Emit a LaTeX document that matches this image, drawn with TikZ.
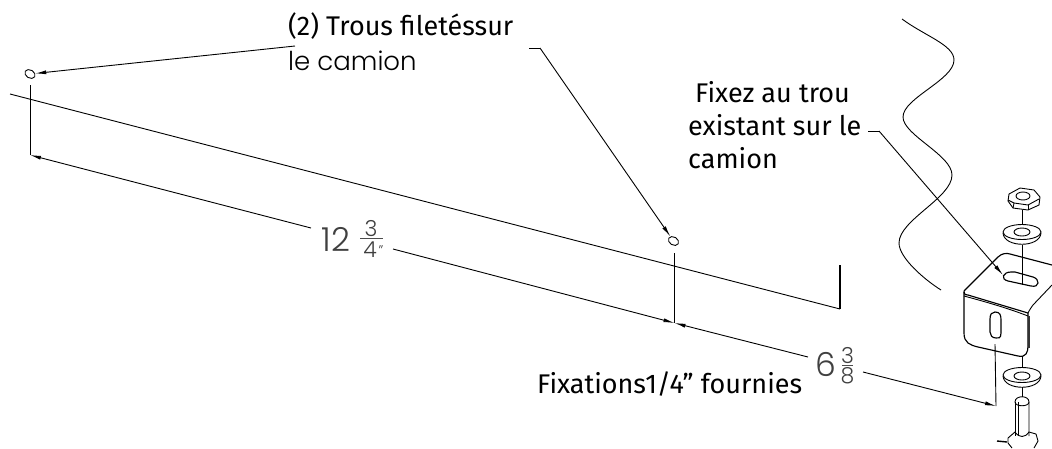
\documentclass[tikz,border=0pt]{standalone}
\usepackage{fontspec}
\setmainfont{Fira Sans}
\newfontfamily\thinfont{Poppins Light}
\usetikzlibrary{arrows.meta,shapes.geometric}
\tikzset{
 ln/.style={line width=0.9pt,black},
 thk/.style={line width=1.15pt,black},
 arr/.style={ln,-{Latex[length=11pt,width=4pt]}},
 lbl/.style={inner sep=0pt,anchor=base west,text=black},
 lbla/.style={lbl,font=\fontsize{27pt}{29pt}\selectfont},
 lbld/.style={lbl,font=\thinfont\fontsize{26pt}{26pt}\selectfont},
 dim/.style={inner sep=0pt,text=black!75,font=\thinfont\fontsize{33pt}{33pt}\selectfont},
 frac/.style={inner sep=0pt,text=black!75,font=\thinfont\fontsize{22pt}{22pt}\selectfont},
 hole/.style={draw,ln,ellipse,minimum width=11pt,minimum height=8pt,inner sep=0pt,rotate=-30}
}
\begin{document}
\begin{tikzpicture}[x=1pt,y=-1pt]
\useasboundingbox (0,0) rectangle (1052,448);
\fill[white] (0,0) rectangle (1052,448);
% holes
\node[hole] (h1) at (30,74) {};
\node[hole] (h2) at (673.5,241) {};
% coordinates
\coordinate (l1) at (295,46);
\coordinate (l2a) at (529,48);
\coordinate (l2b) at (540,48);
\coordinate (d1) at (30,155);
\coordinate (t1) at (30,85);
\coordinate (t2) at (674.5,253);
\coordinate (d2) at (674.5,323);
\coordinate (d3) at (996,406);
\draw[arr] (l1) -- (h1);
\draw[ln] (l2a) -- (l2b);
\draw[arr] (l2b) -- (h2);
\draw[ln] (10,94) -- (840,309);
\draw[thk] (840,309) -- (840,265);
\draw[ln] (t1) -- (d1);
\draw[ln] (t2) -- (d2);
\draw[arr] (311,228) -- (d1);
\draw[arr] (393,249) -- (d2);
\draw[arr] (808,357) -- (d2);
\draw[arr] (863,372) -- (d3);
\draw[ln] (d3) -- (995,344);
% dims
\node[dim,anchor=base] (n12) at (336,251) {12};
\node[frac,anchor=base] (f3) at (371,236) {3};
\draw[ln,black!70] (360,238.5) -- (383,238.5);
\node[frac,anchor=base] (f4) at (370,257) {4};
\node[inner sep=0pt,text=black!75,font=\thinfont\fontsize{14pt}{14pt}\selectfont,anchor=base] (q) at (381,255) {”};
\node[dim,anchor=base] (n6) at (826,376) {6};
\node[frac,anchor=base] (f5) at (847.5,363) {3};
\draw[ln,black!70] (842,365.5) -- (853,365.5);
\node[frac,anchor=base] (f6) at (847.5,383) {8};
% labels
\node[lbla] (a) at (288,35) {(2) Trous filetéssur};
\node[lbld] (b) at (288,70) {le camion};
\node[lbla] (c) at (695,102) {Fixez au trou};
\node[lbla] (d) at (688,135) {existant sur le};
\node[lbla] (e) at (688,168) {camion};
\node[lbla] (f) at (537,393) {Fixations1/4” fournies};
% leader
\coordinate (fx1) at (868,131);
\coordinate (fx2) at (879,131);
\coordinate (fx3) at (1003,275);
\draw[ln] (fx1) -- (fx2);
\draw[arr] (fx2) -- (fx3);
% wave
\draw[ln] (902,19) .. controls (925,36) and (954,45) .. (954,60)
  .. controls (954,80) and (903,98) .. (903,117)
  .. controls (903,135) and (952,155) .. (952,175)
  .. controls (952,198) and (899,220) .. (899,243)
  .. controls (899,258) and (925,280) .. (941,290);
% nut
\draw[ln] (1009,194) -- (1020,188) -- (1034,190) -- (1040,197) -- (1039,205) -- (1028,210) -- (1013,208) -- (1008,201) -- cycle;
\draw[ln] (1023,196) ellipse (7pt and 4pt);
\draw[ln] (1008,200) -- (1014,203) -- (1028,205) -- (1039,199);
\draw[ln] (1014,203) -- (1013,208);
\draw[ln] (1028,205) -- (1028,210);
% upper washer
\draw[ln] (1022,210) -- (1022,224);
\draw[ln] (1022,232) ellipse (19pt and 7.5pt);
\draw[ln] (1003,233) .. controls (1004,248) and (1040,248) .. (1041,233);
\draw[ln] (1022,232) ellipse (8pt and 4pt);
\draw[ln] (1022,245) -- (1022,285);
% bracket
\draw[thk,line join=round] (964,291) -- (998,257) .. controls (1002,253) and (1007,253) .. (1010,254) -- (1052,265);
\draw[ln] (1052,285) -- (1033,305) .. controls (1030,309) and (1029,311) .. (1028,313);
\draw[thk] (964,291) .. controls (964,293) and (964,295) .. (968,295) -- (1028,313);
\draw[ln] (964,296) .. controls (990,303) and (1010,309) .. (1028,316);
\draw[thk] (964,292) -- (964,333) .. controls (964,343) and (970,345) .. (978,347) -- (1018,356) .. controls (1026,358) and (1028,352) .. (1028,346) -- (1028,313);
\draw[line width=1.6pt,black!80] (1029,316) -- (1029,348);
% top slot
\draw[thk] (1011,272) .. controls (1003,272) and (1000,279) .. (1008,281) -- (1031,286) .. controls (1040,288) and (1040,279) .. (1033,277) -- (1015,272) -- cycle;
% side slot
\draw[thk] (995,312) .. controls (1000,312) and (1001,315) .. (1001,320) -- (1001,333) .. controls (1001,339) and (998,338) .. (996,338) .. controls (992,338) and (990,335) .. (990,332) -- (990,319) .. controls (990,314) and (992,312) .. (995,312) -- cycle;
% lower washer
\draw[ln] (1022,356) -- (1022,368);
\draw[ln] (1022,375) ellipse (19pt and 7.5pt);
\draw[ln] (1003,376) .. controls (1004,391) and (1040,391) .. (1041,376);
\draw[ln] (1022,376) ellipse (8pt and 4pt);
\draw[ln] (1022,387) -- (1022,397);
% bolt
\draw[ln] (1015,402) .. controls (1015,395) and (1029,395) .. (1029,402) -- (1029,436);
\draw[ln] (1015,402) -- (1015,436);
\draw[ln] (1018,402) -- (1018,436);
\draw[ln] (1015,402) .. controls (1015,407) and (1029,407) .. (1029,402);
\draw[ln] (1008,438) -- (1015,432) .. controls (1019,438) and (1025,438) .. (1029,432) -- (1036,434) -- (1038,441) -- (1034,448);
\draw[ln] (1008,438) -- (1008,443) -- (1012,448);
\draw[line width=1.4pt] (997,441) -- (1007,442);
\end{tikzpicture}
\end{document}
